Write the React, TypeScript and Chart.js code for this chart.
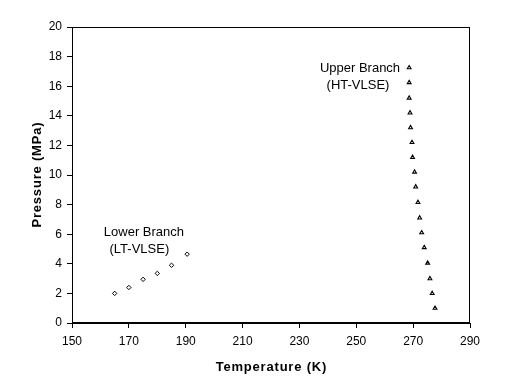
import React, { useEffect, useRef } from "react";
import { Chart, registerables } from "chart.js";

Chart.register(...registerables);

const lowerT = [165, 170, 175, 180, 185, 190.5];
const lowerP = [2.0, 2.4, 2.95, 3.35, 3.9, 4.65];

const upperT = [268.6, 268.6, 268.6, 268.9, 269.1, 269.6, 269.8, 270.5, 270.9, 271.7, 272.3, 273.0, 273.9, 275.1, 275.9, 276.7, 277.7];
const upperP = [17.25, 16.25, 15.2, 14.2, 13.2, 12.2, 11.2, 10.2, 9.2, 8.15, 7.1, 6.1, 5.1, 4.05, 3.0, 2.0, 1.0];

const xTicks = [150, 170, 190, 210, 230, 250, 270, 290];
const yTicks = [0, 2, 4, 6, 8, 10, 12, 14, 16, 18, 20];

const labelTexts = ["Lower Branch", "(LT-VLSE)", "Upper Branch", "(HT-VLSE)"];
const labelT = [175.3, 173.7, 251.3, 250.6];
const labelP = [6.15, 5.0, 17.23, 16.08];

const xTitle = "Temperature (K)";
const yTitle = "Pressure (MPa)";

const FONT = "'Liberation Sans', Arial, sans-serif";

export default function App() {
  const ref = useRef<HTMLCanvasElement | null>(null);
  useEffect(() => {
    document.body.style.margin = "0";
    const canvas = ref.current!;
    const boxPlugin = {
      id: "box",
      afterDraw(chart: any) {
        const { ctx, chartArea } = chart;
        ctx.save();
        ctx.strokeStyle = "#000";
        ctx.lineWidth = 1;
        ctx.strokeRect(
          Math.round(chartArea.left) + 0.5,
          Math.round(chartArea.top) + 0.5,
          Math.round(chartArea.right - chartArea.left) - 1,
          Math.round(chartArea.bottom - chartArea.top) - 1
        );
        const xs = chart.scales.x;
        const ys = chart.scales.y;
        ctx.fillStyle = "#000";
        ctx.font = `13px ${FONT}`;
        ctx.textAlign = "center";
        ctx.textBaseline = "middle";
        labelTexts.forEach((t, i) => {
          ctx.fillText(t, xs.getPixelForValue(labelT[i]), ys.getPixelForValue(labelP[i]));
        });
        // axis titles
        ctx.font = `bold 13px ${FONT}`;
        (ctx as any).letterSpacing = "0.8px";
        const cx = (chartArea.left + chartArea.right) / 2;
        ctx.fillText(xTitle, cx + 0.4, 367);
        const cy = (chartArea.top + chartArea.bottom) / 2;
        ctx.translate(37, cy);
        ctx.rotate(-Math.PI / 2);
        ctx.fillText(yTitle, 0.4, 0);
        ctx.restore();
      },
    };
    const chart = new Chart(canvas, {
      type: "scatter",
      data: {
        datasets: [
          {
            label: "Lower",
            data: lowerT.map((t, i) => ({ x: t, y: lowerP[i] })),
            pointStyle: "rectRot",
            radius: 2.2,
            borderColor: "#000",
            backgroundColor: "#fff",
            borderWidth: 1,
          },
          {
            label: "Upper",
            data: upperT.map((t, i) => ({ x: t, y: upperP[i] })),
            pointStyle: "triangle",
            radius: 2.2,
            borderColor: "#000",
            backgroundColor: "#fff",
            borderWidth: 1.1,
          },
        ],
      },
      options: {
        animation: false,
        responsive: false,
        layout: { padding: { left: 0, top: 27, right: 52, bottom: 0 } },
        plugins: { legend: { display: false }, tooltip: { enabled: false } },
        scales: {
          x: {
            type: "linear",
            min: 150,
            max: 290,
            afterFit: (s: any) => {
              s.height = 65;
            },
            afterBuildTicks: (s: any) => {
              s.ticks = xTicks.map((v) => ({ value: v }));
            },
            ticks: { color: "#000", font: { family: FONT, size: 12 }, padding: 6, maxRotation: 0 },
            grid: { drawOnChartArea: false, drawTicks: true, tickLength: 5, color: "#000" },
            border: { color: "#000" },
          },
          y: {
            type: "linear",
            min: 0,
            max: 20,
            afterFit: (s: any) => {
              s.width = 72;
            },
            afterBuildTicks: (s: any) => {
              s.ticks = yTicks.map((v) => ({ value: v }));
            },
            ticks: { color: "#000", font: { family: FONT, size: 12 }, padding: 5 },
            grid: { drawOnChartArea: false, drawTicks: true, tickLength: 5, color: "#000" },
            border: { color: "#000" },
          },
        },
      },
      plugins: [boxPlugin],
    });
    return () => chart.destroy();
  }, []);
  return (
    <div style={{ width: 522, height: 388 }}>
      <canvas ref={ref} width={522} height={388} style={{ width: 522, height: 388, display: "block" }} />
    </div>
  );
}
